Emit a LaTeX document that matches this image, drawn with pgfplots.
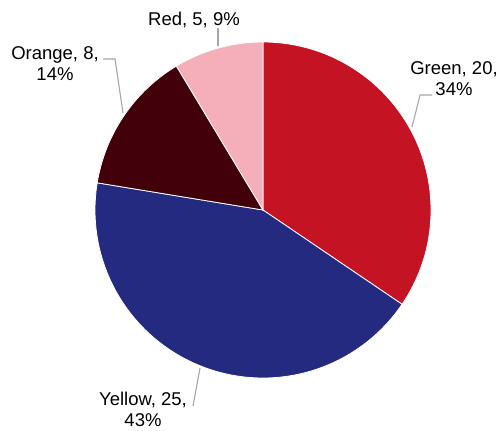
\documentclass[border=0pt]{standalone}
\usepackage{pgfplots}
\usepackage{pgfplotstable}
\pgfplotsset{compat=1.18}
\usepackage{fontspec}
\setmainfont{Liberation Sans}
\definecolor{pieA}{HTML}{C41424}
\definecolor{pieB}{HTML}{232A80}
\definecolor{pieC}{HTML}{42000A}
\definecolor{pieD}{HTML}{F4AFBA}
\definecolor{leader}{HTML}{A6A6A6}
\pgfplotstableread{
label value
Green 20
Yellow 25
Orange 8
Red 5
}\piedata
\begin{document}%
\begin{tikzpicture}[lbl/.style={align=center, inner sep=0pt, font=\fontsize{18.5bp}{21bp}\selectfont}]
\pgfplotstablegetelem{0}{value}\of\piedata \let\vA\pgfplotsretval
\pgfplotstablegetelem{1}{value}\of\piedata \let\vB\pgfplotsretval
\pgfplotstablegetelem{2}{value}\of\piedata \let\vC\pgfplotsretval
\pgfplotstablegetelem{3}{value}\of\piedata \let\vD\pgfplotsretval
\pgfmathsetmacro\total{\vA+\vB+\vC+\vD}
\pgfmathsetmacro\aA{90}
\pgfmathsetmacro\aB{\aA-360*\vA/\total}
\pgfmathsetmacro\aC{\aB-360*\vB/\total}
\pgfmathsetmacro\aD{\aC-360*\vC/\total}
\pgfmathsetmacro\aE{\aD-360*\vD/\total}
\begin{axis}[
  width=500bp, height=430bp, scale only axis,
  xmin=0, xmax=500, ymin=0, ymax=430,
  hide axis, clip=false, xtick=\empty, ytick=\empty,
  every axis plot/.append style={draw=white, line width=0.8pt, samples=120, variable=\t},
]
\coordinate (SW) at (0,0);
\coordinate (NE) at (500,430);
\addplot[fill=pieA, domain=\aB:\aA] ({263+168*cos(\t)},{220+168*sin(\t)}) -- (263,220) -- cycle;
\addplot[fill=pieB, domain=\aC:\aB] ({263+168*cos(\t)},{220+168*sin(\t)}) -- (263,220) -- cycle;
\addplot[fill=pieC, domain=\aD:\aC] ({263+168*cos(\t)},{220+168*sin(\t)}) -- (263,220) -- cycle;
\addplot[fill=pieD, domain=\aE:\aD] ({263+168*cos(\t)},{220+168*sin(\t)}) -- (263,220) -- cycle;
% leader lines
\draw[leader, line width=1.1pt] (218,402) -- (218,384);
\draw[leader, line width=1.1pt] (103,371) -- (115,371) -- (123,317);
\draw[leader, line width=1.1pt] (432,335) -- (420,335) -- (412,303);
\draw[leader, line width=1.1pt] (193,24) -- (200,62);
% labels
\node[lbl] at (194,410.5) {Red, 5, 9\%};
\node[lbl] at (55,366) {Orange, 8,\\14\%};
\node[lbl] at (454,351.5) {Green, 20,\\34\%};
\node[lbl] at (143,20.5) {Yellow, 25,\\43\%};
\end{axis}
\pgfresetboundingbox
\path[use as bounding box] (SW) rectangle (NE);
\end{tikzpicture}%
\end{document}
